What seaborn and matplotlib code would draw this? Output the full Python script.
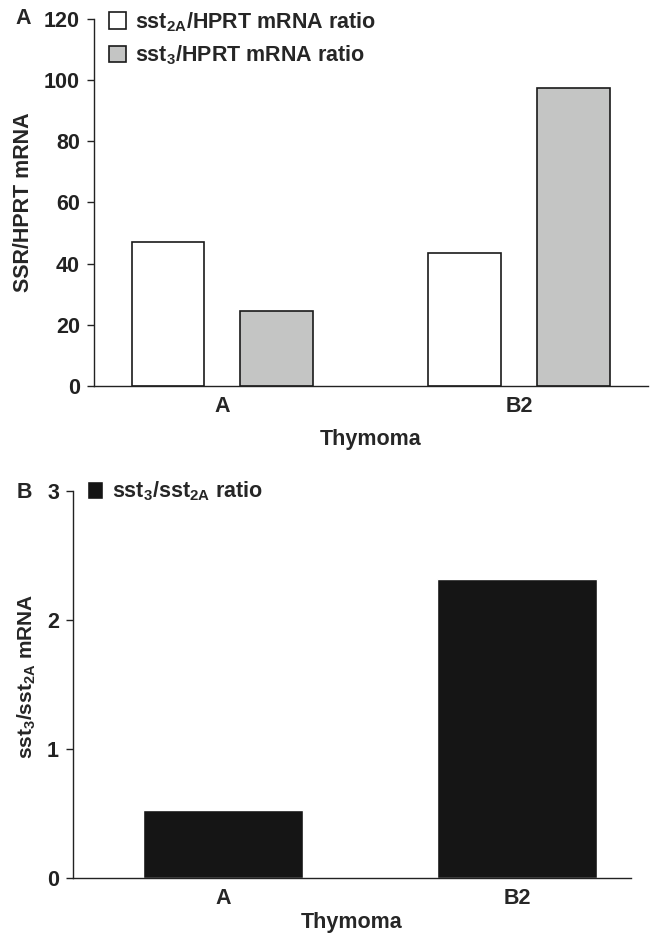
import numpy as np
import pandas as pd
import matplotlib
matplotlib.use("Agg")
import matplotlib.pyplot as plt
import seaborn as sns

# values
tumours = ["A", "B2"]
sst2a_hprt = [47.1, 43.5]
sst3_hprt = [24.4, 97.3]
sst3_sst2a = [0.53, 2.32]

sst2a_label = r"sst$_{2A}$/HPRT mRNA ratio"
sst3_label = r"sst$_{3}$/HPRT mRNA ratio"
ratio_label = r"sst$_{3}$/sst$_{2A}$ ratio"

FS = 15.5

sns.set_style("ticks")
plt.rcParams["font.family"] = ["Liberation Sans", "DejaVu Sans"]
plt.rcParams["font.weight"] = "bold"
plt.rcParams["axes.labelweight"] = "bold"
plt.rcParams["mathtext.default"] = "regular"
plt.rcParams["axes.edgecolor"] = "#222222"
plt.rcParams["axes.linewidth"] = 1.0
plt.rcParams["ytick.major.size"] = 5
plt.rcParams["ytick.major.width"] = 1.0
plt.rcParams["ytick.color"] = "#222222"
plt.rcParams["xtick.major.size"] = 0

fig = plt.figure(figsize=(6.54, 9.39), dpi=100)
ax1 = fig.add_axes([0.1437, 0.5889, 0.8471, 0.3909])
ax2 = fig.add_axes([0.1116, 0.0650, 0.8532, 0.4121])

# Panel A
df_top = pd.DataFrame({
    "Thymoma": tumours * 2,
    "ratio": sst2a_hprt + sst3_hprt,
    "series": [sst2a_label] * 2 + [sst3_label] * 2,
})
sns.barplot(data=df_top, x="Thymoma", y="ratio", hue="series",
            palette=["white", "#c4c5c4"], saturation=1, width=0.732, gap=0.33,
            edgecolor="#1a1a1a", linewidth=1.2, ax=ax1)
ax1.set_xlim(-0.433, 1.435)
ax1.set_ylim(0, 120)
ax1.set_yticks(np.arange(0, 121, 20))
ax1.set_ylabel("SSR/HPRT mRNA", fontsize=FS)
ax1.set_xlabel("Thymoma", fontsize=FS)
ax1.yaxis.set_label_coords(-0.108, 0.5)
ax1.xaxis.set_label_coords(0.5, -0.117)
ax1.tick_params(axis="both", labelsize=FS, pad=5)
ax1.tick_params(axis="x", pad=7)
sns.despine(ax=ax1)
ax1.legend(loc="upper left", bbox_to_anchor=(109 / 654, 1 - 10 / 939),
           bbox_transform=fig.transFigure, frameon=False, borderpad=0,
           borderaxespad=0, handlelength=0.8, handleheight=0.8,
           handletextpad=0.4, labelspacing=0.45, fontsize=FS)

# Panel B
sns.barplot(x=tumours, y=sst3_sst2a, color="#151515", saturation=1,
            width=0.544, label=ratio_label, ax=ax2)
ax2.set_xlim(-0.51, 1.388)
ax2.set_ylim(0, 3)
ax2.set_yticks([0, 1, 2, 3])
ax2.set_ylabel(r"sst$_{3}$/sst$_{2A}$ mRNA", fontsize=15)
ax2.set_xlabel("Thymoma", fontsize=FS)
ax2.yaxis.set_label_coords(-0.062, 0.52)
ax2.xaxis.set_label_coords(0.5, -0.088)
ax2.tick_params(axis="both", labelsize=FS, pad=5)
ax2.tick_params(axis="x", pad=7)
sns.despine(ax=ax2)
ax2.legend(loc="upper left", bbox_to_anchor=(87 / 654, 1 - 479 / 939),
           bbox_transform=fig.transFigure, frameon=False, borderpad=0,
           borderaxespad=0, handlelength=0.75, handleheight=0.9,
           handletextpad=0.4, fontsize=FS)

fig.text(15 / 654, 1 - 19 / 939, "A", fontsize=FS, fontweight="bold", va="center")
fig.text(17 / 654, 1 - 492 / 939, "B", fontsize=FS, fontweight="bold", va="center")

fig.savefig("out.png", dpi=100)
